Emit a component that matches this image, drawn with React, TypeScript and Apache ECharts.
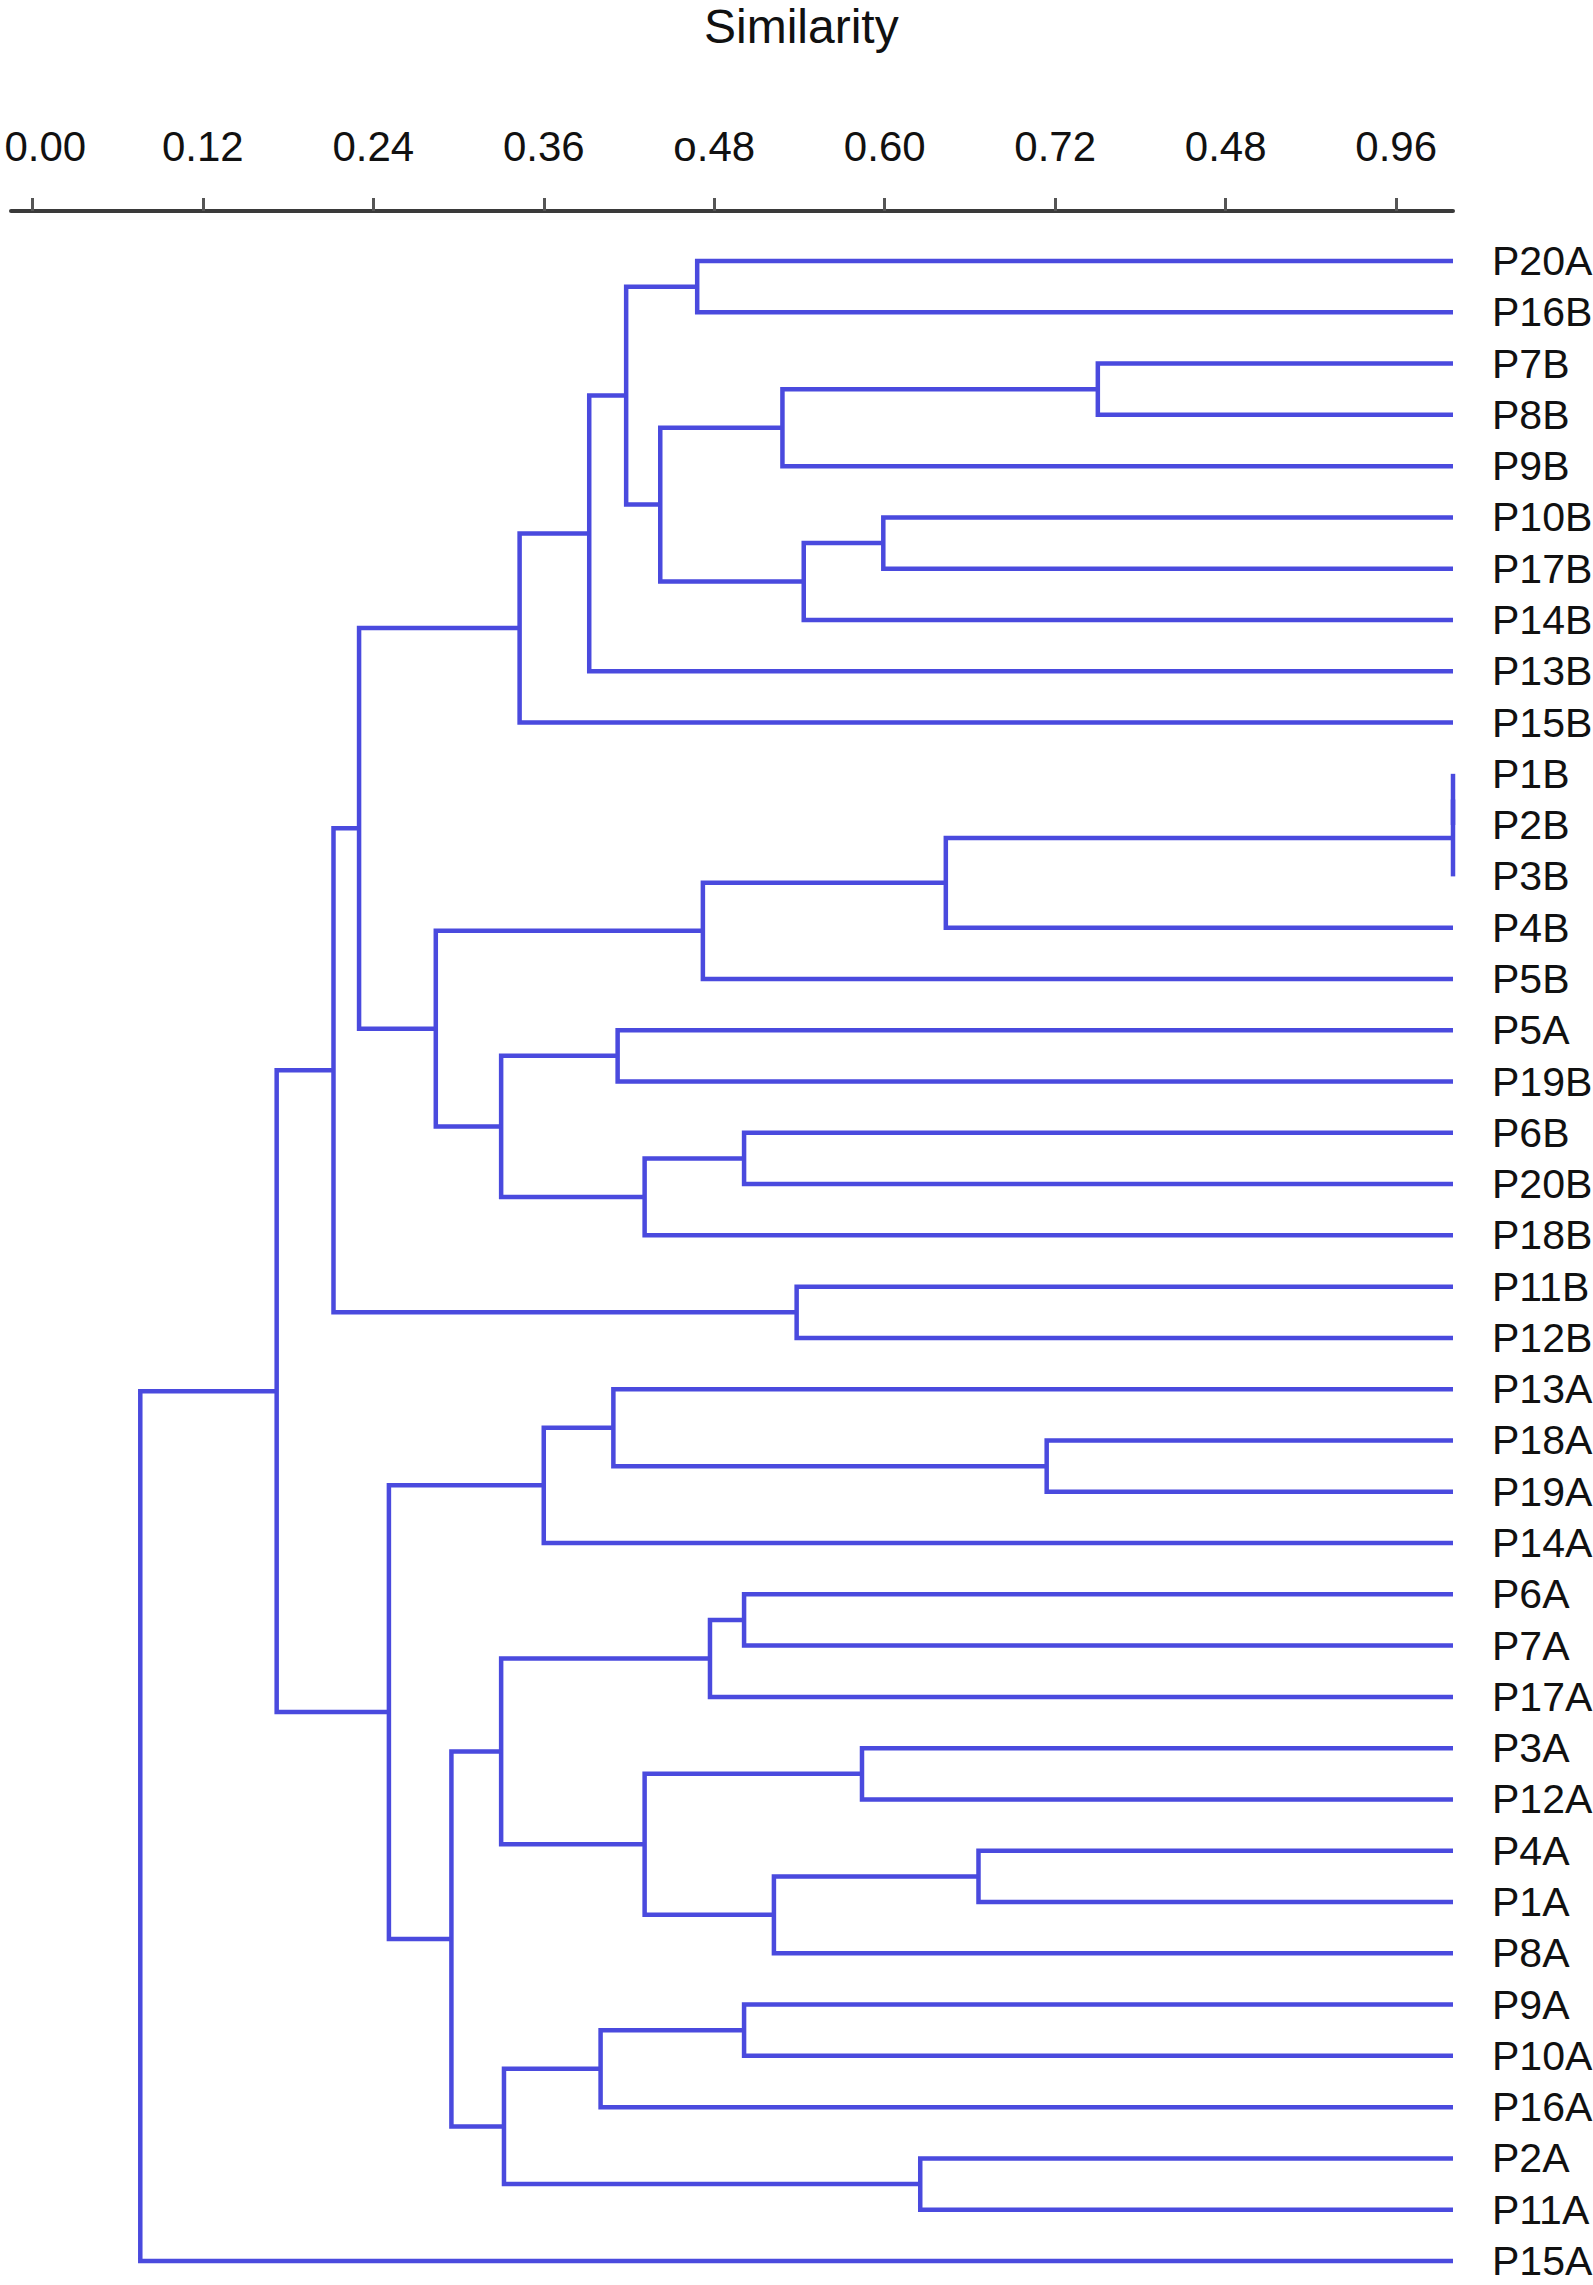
import React, { useEffect, useRef } from "react";
import * as echarts from "echarts";

// Leaves, top to bottom
const leafNames = [
  "P20A", "P16B", "P7B", "P8B", "P9B", "P10B", "P17B", "P14B", "P13B", "P15B",
  "P1B", "P2B", "P3B", "P4B", "P5B", "P5A", "P19B", "P6B", "P20B", "P18B",
  "P11B", "P12B", "P13A", "P18A", "P19A", "P14A", "P6A", "P7A", "P17A", "P3A",
  "P12A", "P4A", "P1A", "P8A", "P9A", "P10A", "P16A", "P2A", "P11A", "P15A",
];

// Merges: [id, childA, childB, similarity]
const merges: [string, string, string, number][] = [
  ["m1", "P20A", "P16B", 0.468],
  ["m2", "P7B", "P8B", 0.75],
  ["m3", "m2", "P9B", 0.528],
  ["m4", "P10B", "P17B", 0.599],
  ["m5", "m4", "P14B", 0.543],
  ["m6", "m3", "m5", 0.442],
  ["m7", "m1", "m6", 0.418],
  ["m8", "m7", "P13B", 0.392],
  ["m9", "m8", "P15B", 0.343],
  ["m10", "P1B", "P2B", 1.0],
  ["m11", "m10", "P3B", 1.0],
  ["m12", "m11", "P4B", 0.643],
  ["m13", "m12", "P5B", 0.472],
  ["m14", "P5A", "P19B", 0.412],
  ["m15", "P6B", "P20B", 0.501],
  ["m16", "m15", "P18B", 0.431],
  ["m17", "m14", "m16", 0.33],
  ["m18", "m13", "m17", 0.284],
  ["m19", "m9", "m18", 0.23],
  ["m20", "P11B", "P12B", 0.538],
  ["m21", "m19", "m20", 0.212],
  ["m22", "P18A", "P19A", 0.714],
  ["m23", "P13A", "m22", 0.409],
  ["m24", "m23", "P14A", 0.36],
  ["m25", "P6A", "P7A", 0.501],
  ["m26", "m25", "P17A", 0.477],
  ["m27", "P3A", "P12A", 0.584],
  ["m28", "P4A", "P1A", 0.666],
  ["m29", "m28", "P8A", 0.522],
  ["m30", "m27", "m29", 0.431],
  ["m31", "m26", "m30", 0.33],
  ["m32", "P9A", "P10A", 0.501],
  ["m33", "m32", "P16A", 0.4],
  ["m34", "P2A", "P11A", 0.625],
  ["m35", "m33", "m34", 0.332],
  ["m36", "m31", "m35", 0.295],
  ["m37", "m24", "m36", 0.251],
  ["m38", "m21", "m37", 0.172],
  ["m39", "m38", "P15A", 0.076],
];

const tickValues = [0, 0.12, 0.24, 0.36, 0.48, 0.6, 0.72, 0.84, 0.96];
const tickLabels = ["0.00", "0.12", "0.24", "0.36", "o.48", "0.60", "0.72", "0.48", "0.96"];
const leafSimilarity = 1.0;
const titleText = "Similarity";

const FONT = "'Liberation Sans', Arial, Helvetica, sans-serif";
const LINE_COLOR = "#4a4ade";

function buildSegments() {
  const pos: Record<string, number> = {};
  const height: Record<string, number> = {};
  leafNames.forEach((n, i) => {
    pos[n] = i;
    height[n] = leafSimilarity;
  });
  const data: number[][] = [];
  merges.forEach(([id, a, b, s]) => {
    data.push([s, pos[a], pos[b], height[a], height[b]]);
    pos[id] = (pos[a] + pos[b]) / 2;
    height[id] = s;
  });
  return data;
}

export default function App() {
  const ref = useRef<HTMLDivElement>(null);
  useEffect(() => {
    if (!ref.current) return;
    const chart = echarts.init(ref.current, undefined, { renderer: "svg" });
    const data = buildSegments();
    const leafIdx = leafNames.map((_, i) => i);
    chart.setOption({
      animation: false,
      backgroundColor: "#ffffff",
      graphic: [
        {
          type: "text",
          left: 704,
          top: 2,
          style: {
            text: titleText,
            fontSize: 48,
            fontFamily: FONT,
            fill: "#111",
          },
        },
      ],
      grid: {
        left: 11,
        right: 140,
        top: 211,
        bottom: 24,
        containLabel: false,
        outerBoundsMode: "none",
      },
      xAxis: {
        type: "value",
        position: "top",
        min: -0.015,
        max: 1.0,
        axisLine: { show: true, onZero: false, lineStyle: { color: "#3a3a3a", width: 4 } },
        axisTick: {
          show: true,
          customValues: tickValues,
          length: 13,
          lineStyle: { color: "#555", width: 3 },
        },
        axisLabel: {
          show: true,
          customValues: tickValues,
          formatter: (v: number) => {
            const i = tickValues.findIndex((t) => Math.abs(t - v) < 1e-6);
            if (i < 0) return "";
            return i === 0 ? "{first|" + tickLabels[i] + "}" : tickLabels[i];
          },
          rich: {
            first: {
              fontSize: 42,
              fontFamily: FONT,
              color: "#111",
              padding: [0, 0, 0, 26],
            },
          },
          margin: 44,
          fontSize: 42,
          color: "#111",
          fontFamily: FONT,
        },
        splitLine: { show: false },
      },
      yAxis: {
        type: "value",
        position: "right",
        inverse: true,
        min: -0.975,
        max: leafNames.length - 1,
        axisLine: { show: false },
        axisTick: { show: false },
        splitLine: { show: false },
        axisLabel: {
          show: true,
          customValues: leafIdx,
          formatter: (v: number) => leafNames[Math.round(v)] ?? "",
          margin: 39,
          fontSize: 41,
          color: "#111",
          fontFamily: FONT,
          align: "left",
        },
      },
      series: [
        {
          type: "custom",
          data,
          encode: { x: [0, 3, 4], y: [1, 2] },
          renderItem: (params: any, api: any) => {
            const s = api.value(0);
            const ya = api.value(1);
            const yb = api.value(2);
            const ha = api.value(3);
            const hb = api.value(4);
            const p1 = api.coord([ha, ya]);
            const p2 = api.coord([s, ya]);
            const p3 = api.coord([s, yb]);
            const p4 = api.coord([hb, yb]);
            return {
              type: "polyline",
              shape: { points: [p1, p2, p3, p4] },
              style: { stroke: LINE_COLOR, lineWidth: 4.5, fill: "none" },
            };
          },
        },
      ],
    });
    return () => chart.dispose();
  }, []);
  return (
    <div
      ref={ref}
      style={{ position: "absolute", left: 0, top: 0, width: 1593, height: 2285 }}
    />
  );
}
